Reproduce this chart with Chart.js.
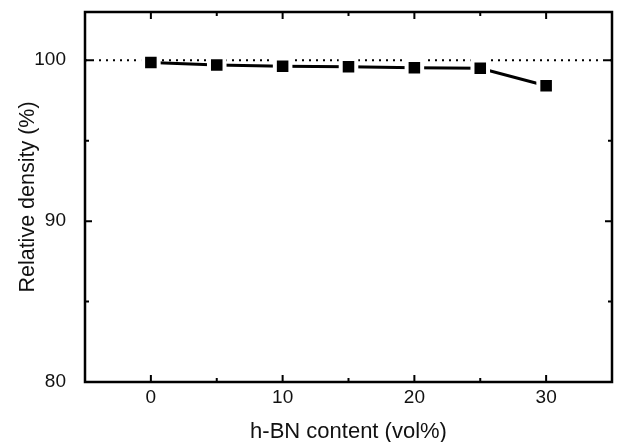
<!DOCTYPE html>
<html>
<head>
<meta charset="utf-8">
<script src="https://cdn.jsdelivr.net/npm/chart.js@4.4.0/dist/chart.umd.min.js"></script>
<style>
  body { margin: 0; background: #fff; }
  #chart { display: block; }
</style>
</head>
<body>
<canvas id="chart" width="620" height="442"></canvas>
<script>
// h-BN content (vol%) vs relative density (%)
const hbnContent = [0, 5, 10, 15, 20, 25, 30];
const relDensity = [99.86, 99.7, 99.63, 99.6, 99.53, 99.5, 98.42];

// reference line at 100 %
const refX = [-5, 35];
const refY = [100, 100];

const xTicks = [0, 10, 20, 30];
const xMinor = [5, 15, 25];
const yTicks = [80, 90, 100];
const yMinor = [85, 95];

const fam = "'Liberation Sans', Arial, sans-serif";
const tickFont = { family: fam, size: 19 };

function noPad(axis) {
  axis.paddingTop = 0; axis.paddingBottom = 0;
  axis.paddingLeft = 0; axis.paddingRight = 0;
}

// frame + inward ticks on all four sides
const framePlugin = {
  id: 'frame',
  afterDraw(chart) {
    const { ctx, chartArea: a, scales } = chart;
    const xs = scales.x, ys = scales.y;
    ctx.save();
    ctx.strokeStyle = '#000';
    ctx.lineWidth = 2;
    ctx.beginPath();
    xTicks.concat(xMinor).forEach(v => {
      const len = xTicks.includes(v) ? 7 : 4;
      const px = xs.getPixelForValue(v);
      ctx.moveTo(px, a.bottom); ctx.lineTo(px, a.bottom - len);
      ctx.moveTo(px, a.top); ctx.lineTo(px, a.top + len);
    });
    yTicks.concat(yMinor).forEach(v => {
      const len = yTicks.includes(v) ? 7 : 4;
      const py = ys.getPixelForValue(v);
      ctx.moveTo(a.left, py); ctx.lineTo(a.left + len, py);
      ctx.moveTo(a.right, py); ctx.lineTo(a.right - len, py);
    });
    ctx.stroke();
    ctx.lineWidth = 2.5;
    ctx.strokeRect(a.left, a.top, a.right - a.left, a.bottom - a.top);
    ctx.restore();
  }
};

new Chart(document.getElementById('chart'), {
  type: 'line',
  data: {
    datasets: [
      {
        label: 'Relative density',
        data: hbnContent.map((x, i) => ({ x: x, y: relDensity[i] })),
        borderColor: '#000',
        borderWidth: 3,
        pointStyle: 'rect',
        pointRadius: 11,
        pointBackgroundColor: '#000',
        pointBorderColor: '#fff',
        pointBorderWidth: 4,
        tension: 0
      },
      {
        label: '100%',
        data: refX.map((x, i) => ({ x: x, y: refY[i] })),
        borderColor: '#000',
        borderWidth: 2,
        borderDash: [2, 5],
        pointRadius: 0
      }
    ]
  },
  options: {
    responsive: false,
    animation: false,
    layout: { autoPadding: false, padding: { top: 12, right: 8, left: 0, bottom: 0 } },
    plugins: { legend: { display: false }, tooltip: { enabled: false } },
    scales: {
      x: {
        type: 'linear',
        min: -5, max: 35,
        afterBuildTicks: axis => { axis.ticks = xTicks.map(v => ({ value: v })); },
        afterFit: axis => { axis.height = 60; noPad(axis); },
        grid: { display: false },
        border: { display: false },
        ticks: { color: '#111', font: tickFont, padding: -4 },
        title: { display: true, text: 'h-BN content (vol%)', color: '#111', font: { family: fam, size: 22 }, padding: { top: 0, bottom: -3 } }
      },
      y: {
        min: 80, max: 103,
        afterBuildTicks: axis => { axis.ticks = yTicks.map(v => ({ value: v })); },
        afterFit: axis => { axis.width = 85; noPad(axis); },
        grid: { display: false },
        border: { display: false },
        ticks: { color: '#111', font: tickFont, padding: 11 },
        title: { display: true, text: 'Relative density (%)', color: '#111', font: { family: fam, size: 21.5 }, padding: { top: 15, bottom: 0 } }
      }
    }
  },
  plugins: [framePlugin]
});
</script>
</body>
</html>
